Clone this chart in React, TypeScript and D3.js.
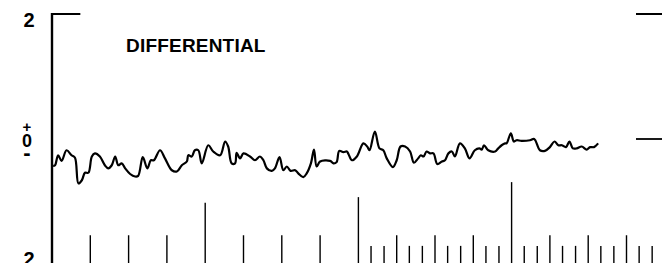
import React from 'react';
import * as d3 from 'd3';

// trace: time (major divisions) and differential value
const traceTime = [
  0.03, 0.08, 0.16, 0.25, 0.38, 0.51, 0.6, 0.69, 0.78, 0.86, 0.95, 1.04, 1.12, 1.25, 1.38, 1.47, 1.56,
  1.65, 1.73, 1.82, 1.91, 2.04, 2.17, 2.25, 2.37, 2.49, 2.58, 2.66, 2.82, 2.95, 3.13, 3.26, 3.39, 3.52,
  3.56, 3.65, 3.73, 3.82, 3.91, 4.08, 4.21, 4.39, 4.52, 4.6, 4.69, 4.78, 4.82, 4.91, 5.0, 5.17, 5.3,
  5.43, 5.52, 5.61, 5.74, 5.82, 5.94, 6.04, 6.13, 6.23, 6.35, 6.43, 6.56, 6.65, 6.76, 6.84, 6.91, 7.0,
  7.26, 7.35, 7.43, 7.5, 7.61, 7.7, 7.74, 7.83, 7.96, 8.13, 8.23, 8.29, 8.43, 8.55, 8.65, 8.74, 8.9,
  9.0, 9.1, 9.22, 9.35, 9.45, 9.56, 9.63, 9.7, 9.78, 9.87, 9.96, 10.06, 10.18, 10.26, 10.35, 10.44,
  10.52, 10.65, 10.78, 10.9, 11.04, 11.16, 11.22, 11.28, 11.39, 11.57, 11.65, 11.74, 11.83, 11.87,
  11.98, 12.06, 12.13, 12.26, 12.48, 12.59, 12.74, 12.87, 13.0, 13.12, 13.22, 13.31, 13.42, 13.51,
  13.6, 13.7, 13.83, 13.96, 14.05, 14.15, 14.26,
];
const traceValue = [
  -0.43, -0.42, -0.26, -0.35, -0.18, -0.26, -0.3, -0.71, -0.66, -0.54, -0.54, -0.28, -0.23, -0.28,
  -0.42, -0.47, -0.42, -0.28, -0.42, -0.39, -0.47, -0.56, -0.6, -0.59, -0.29, -0.47, -0.34, -0.34,
  -0.18, -0.31, -0.5, -0.52, -0.42, -0.36, -0.26, -0.28, -0.18, -0.18, -0.39, -0.1, -0.2, -0.26,
  -0.04, -0.12, -0.39, -0.39, -0.22, -0.31, -0.23, -0.28, -0.34, -0.28, -0.34, -0.47, -0.51, -0.47,
  -0.29, -0.5, -0.44, -0.51, -0.5, -0.55, -0.61, -0.55, -0.39, -0.17, -0.44, -0.36, -0.35, -0.39,
  -0.37, -0.19, -0.21, -0.2, -0.24, -0.34, -0.28, -0.07, -0.12, -0.18, 0.12, -0.15, -0.18, -0.31,
  -0.45, -0.34, -0.12, -0.12, -0.2, -0.38, -0.31, -0.26, -0.28, -0.2, -0.23, -0.23, -0.4, -0.36,
  -0.34, -0.23, -0.2, -0.28, -0.07, -0.15, -0.31, -0.18, -0.15, -0.17, -0.1, -0.18, -0.2, -0.15,
  -0.1, -0.07, -0.07, 0.09, -0.04, -0.02, -0.03, -0.02, 0.0, -0.18, -0.19, -0.13, -0.04, -0.1, -0.1,
  -0.13, -0.04, -0.15, -0.15, -0.12, -0.17, -0.13, -0.13, -0.07,
];

// time marks along the bottom edge, with the level each mark reaches
const markTime = [
  1, 2, 3, 4, 5, 6, 7, 8, 8.33, 8.67, 9, 9.33, 9.67, 10, 10.33, 10.67, 11, 11.33, 11.67, 12, 12.33,
  12.67, 13, 13.33, 13.67, 14, 14.33, 14.67, 15, 15.33, 15.67,
];
const markTop = [
  -1.54, -1.54, -1.54, -1.02, -1.54, -1.54, -1.54, -0.93, -1.71, -1.71, -1.54, -1.71, -1.71, -1.54,
  -1.71, -1.71, -1.54, -1.71, -1.71, -0.69, -1.71, -1.71, -1.54, -1.71, -1.71, -1.54, -1.71, -1.71,
  -1.54, -1.71, -1.71,
];

const title = 'DIFFERENTIAL';

export default function App() {
  const width = 662;
  const height = 263;

  const x = d3.scaleLinear().domain([0, 16]).range([52, 52 + 16 * 38.3]);
  const y = d3.scaleLinear().domain([-2, 2]).range([264, 14]);

  const points: [number, number][] = traceTime.map((t, i) => [t, traceValue[i]]);
  const line = d3.line<[number, number]>()
    .x(d => x(d[0]))
    .y(d => y(d[1]))
    .curve(d3.curveCatmullRom.alpha(0.5));

  const font = '"Liberation Sans", Arial, sans-serif';

  return (
    <svg
      width={width}
      height={height}
      style={{ position: 'absolute', left: 0, top: 0, background: '#fff' }}
    >
      {/* left axis with its short top bar */}
      <line x1={x(0)} x2={x(0)} y1={y(2) - 1} y2={height} stroke="#000" strokeWidth={2.4} />
      <line x1={x(0) - 1} x2={x(0.74)} y1={y(2)} y2={y(2)} stroke="#000" strokeWidth={2} />

      {/* right-hand reference marks */}
      <line x1={636} x2={width} y1={y(2)} y2={y(2)} stroke="#000" strokeWidth={2} />
      <line x1={636} x2={width} y1={y(0)} y2={y(0)} stroke="#000" strokeWidth={1.8} />

      {/* scale labels */}
      <text x={29} y={27} textAnchor="middle" fontFamily={font} fontWeight="bold" fontSize={20}>2</text>
      <text x={27} textAnchor="middle" fontFamily={font} fontWeight="bold">
        <tspan x={27} y={132} fontSize={15}>+</tspan>
        <tspan x={27} y={147} fontSize={18}>0</tspan>
        <tspan x={27} y={160} fontSize={22}>-</tspan>
      </text>
      <text x={29} y={266} textAnchor="middle" fontFamily={font} fontWeight="bold" fontSize={20}>2</text>

      <text x={126} y={52} fontFamily={font} fontWeight="bold" fontSize={19} letterSpacing={0.2}>{title}</text>

      {/* trace */}
      <path d={line(points) ?? ''} fill="none" stroke="#000" strokeWidth={2.2} strokeLinejoin="round" />

      {/* time marks */}
      {markTime.map((t, i) => (
        <line
          key={i}
          x1={x(t)}
          x2={x(t)}
          y1={y(markTop[i])}
          y2={y(-2)}
          stroke="#000"
          strokeWidth={1.4}
        />
      ))}
    </svg>
  );
}
